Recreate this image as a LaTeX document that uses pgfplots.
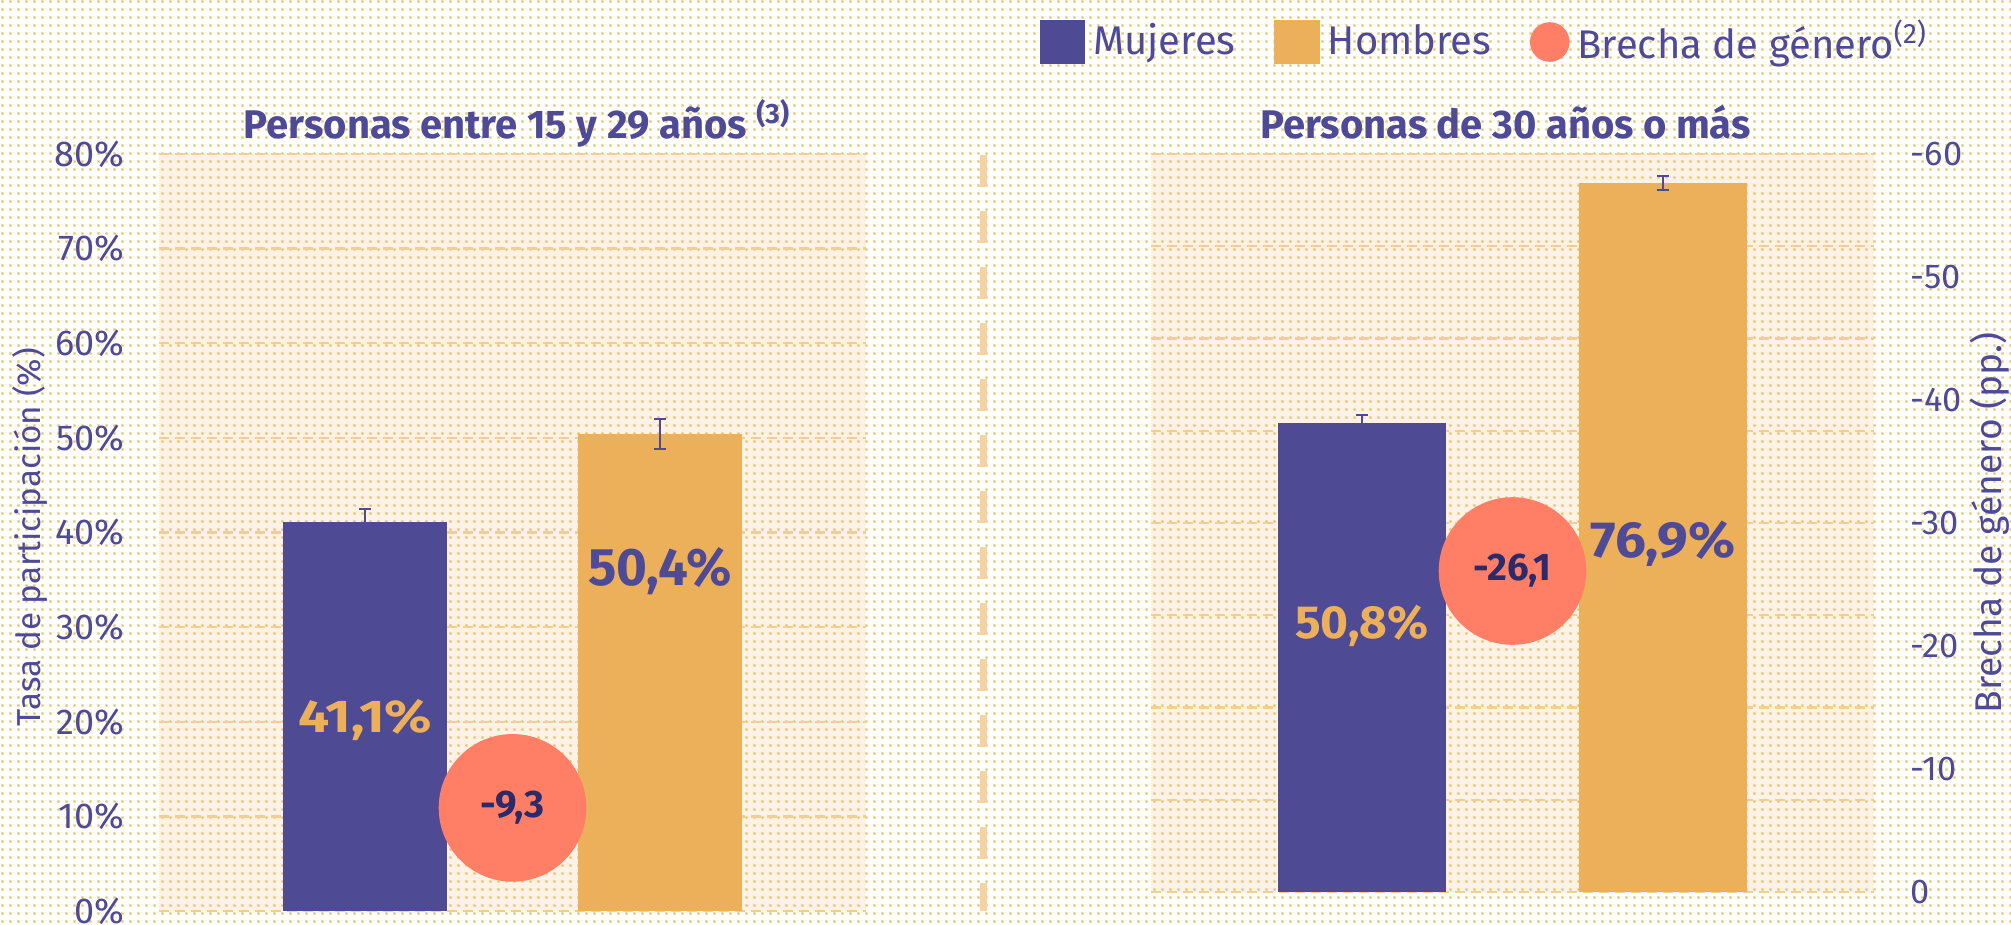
\documentclass[border=0pt]{standalone}
\usepackage{pgfplots}
\pgfplotsset{compat=1.18}
\usepackage{fontspec}
\setmainfont{Fira Sans}
\usetikzlibrary{patterns.meta}

\definecolor{mpurple}{HTML}{4F4A94}
\definecolor{tpurple}{HTML}{4E4A96}
\definecolor{morange}{HTML}{ECB05A}
\definecolor{mcoral}{HTML}{FF7F66}
\definecolor{mnavy}{HTML}{2B2A6B}
\definecolor{mpeach}{HTML}{FDF2E5}
\definecolor{mdots}{HTML}{E5C260}
\definecolor{mgrid}{HTML}{F5CD90}
\definecolor{msep}{HTML}{F3D3A1}

\pgfdeclarepattern{name=mydots, type=uncolored,
  bottom left={\pgfpoint{0pt}{0pt}}, top right={\pgfpoint{2pt}{2pt}},
  tile size={\pgfpoint{2pt}{2pt}},
  code={\pgfpathrectangle{\pgfpoint{0.7pt}{0.7pt}}{\pgfpoint{0.6pt}{0.6pt}}\pgfusepath{fill}}}

\pgfplotsset{
  panel/.style={scale only axis, xmin=-0.4, xmax=4.4, ymin=0, ymax=80,
    xtick=\empty, ytick={0,10,...,80}, axis line style={draw=none},
    major tick length=0pt, ymajorgrids,
    grid style={mgrid, line width=0.6pt, dash pattern=on 2.5pt off 1.5pt},
    ybar, bar width=1.115, bar shift=0pt, clip=false,
    /pgf/number format/assume math mode=true},
  ebar/.style={error bars/.cd, y dir=both, y explicit,
    error bar style={tpurple, line width=0.5pt},
    error mark options={rotate=90, mark size=1.5pt, tpurple, line width=0.5pt},
    /pgfplots/.cd},
  gapdot/.style={only marks, mark=*, color=mcoral, mark size=18.25pt,
    nodes near coords={\textbf{#1}},
    every node near coord/.style={anchor=center, text=mnavy, font=\fontsize{9.6}{11}\selectfont}},
}

\begin{document}
\begin{tikzpicture}
\begin{scope}[x=0.25pt,y=-0.25pt]
\fill[white] (0,0) rectangle (2011,924);
\useasboundingbox (0,0) rectangle (2011,924);
\fill[mpeach] (159,154) rectangle (866,911);
\fill[mpeach] (1151,154) rectangle (1874,892);
\fill[pattern=mydots, pattern color=mdots] (0,0) rectangle (2011,924);
\draw[msep, line width=1.75pt, dash pattern=on 8pt off 6pt] (983,155) -- (983,911);
\node[font=\bfseries\fontsize{10}{12}\selectfont, text=tpurple, anchor=base] at (517.5,138) {Personas entre 15 y 29 años \textsuperscript{(3)}};
\node[font=\bfseries\fontsize{10}{12}\selectfont, text=tpurple, anchor=base] at (1505.5,138) {Personas de 30 años o más};
\node[font=\fontsize{8.3}{10}\selectfont, text=tpurple, rotate=90] at (30,537) {Tasa de participación (\%)};
\node[font=\fontsize{9.3}{10}\selectfont, text=tpurple, rotate=90] at (1990,523) {Brecha de género (pp.)};
\end{scope}

% Left panel
\begin{axis}[panel, at={(39.75pt,-227.75pt)}, anchor=south west,
  width=176.75pt, height=189.25pt,
  yticklabel={\pgfmathprintnumber{\tick}\%},
  yticklabel style={font=\fontsize{9}{10}\selectfont, text=tpurple, anchor=east, inner sep=0pt, xshift=-8.5pt}]
\addplot[fill=mpurple, draw=none, ebar] coordinates {(1,41.1) +- (0,1.4)};
\addplot[fill=morange, draw=none, ebar] coordinates {(3,50.4) +- (0,1.6)};
\node[font=\bfseries\fontsize{11.5}{12}\selectfont, text=morange, xscale=1.2] at (axis cs:1,20.2) {41,1\%};
\node[font=\bfseries\fontsize{13.2}{14}\selectfont, text=tpurple] at (axis cs:3,35.9) {50,4\%};
\end{axis}
\begin{axis}[at={(39.75pt,-227.75pt)}, anchor=south west, scale only axis,
  width=176.75pt, height=189.25pt, xmin=-0.4, xmax=4.4,
  ymin=-60, ymax=-1.3, y dir=reverse, hide axis, clip=false]
\addplot[gapdot={-9,3}] coordinates {(2,-9.3)};
\end{axis}

% Right panel
\begin{axis}[panel, at={(287.75pt,-223pt)}, anchor=south west,
  width=180.75pt, height=184.5pt, yticklabels={},
  legend columns=3,
  legend style={at={(axis description cs:-0.155,1.1518)}, anchor=west, draw=none, fill=none,
    inner sep=0pt, font=\fontsize{10}{12}\selectfont, text=tpurple,
    /tikz/every even column/.append style={column sep=7.7pt}},
  ]
\addplot[forget plot, fill=mpurple, draw=none, ebar] coordinates {(1,50.8) +- (0,0.9)};
\addplot[forget plot, fill=morange, draw=none, ebar] coordinates {(3,76.9) +- (0,0.75)};
\addlegendimage{legend image code/.code={\fill[mpurple] (0pt,-5.25pt) rectangle (11pt,5.25pt);}}
\addlegendentry{Mujeres}
\addlegendimage{legend image code/.code={\fill[morange] (0pt,-5.25pt) rectangle (11pt,5.25pt);}}
\addlegendentry{Hombres}
\addlegendimage{legend image code/.code={\fill[mcoral] (4.75pt,0pt) circle (4.75pt);}}
\addlegendentry{Brecha de género\textsuperscript{(2)}}
\node[font=\bfseries\fontsize{11.6}{12}\selectfont, text=morange, xscale=1.03] at (axis cs:1,28.8) {50,8\%};
\node[font=\bfseries\fontsize{12.7}{13}\selectfont, text=tpurple, xscale=1.08] at (axis cs:3,37.8) {76,9\%};
\end{axis}
\begin{axis}[at={(287.75pt,-223pt)}, anchor=south west, scale only axis,
  width=180.75pt, height=184.5pt, xmin=-0.4, xmax=4.4,
  ymin=-60, ymax=0, y dir=reverse, axis x line=none, axis y line*=right,
  axis line style={draw=none}, major tick length=0pt, ytick={-60,-50,...,0},
  yticklabel style={font=\fontsize{8.6}{10}\selectfont, text=tpurple, anchor=west, inner sep=0pt, xshift=9pt},
  /pgf/number format/assume math mode=true, clip=false]
\addplot[gapdot={-26,1}] coordinates {(2,-26.1)};
\end{axis}
\end{tikzpicture}
\end{document}
